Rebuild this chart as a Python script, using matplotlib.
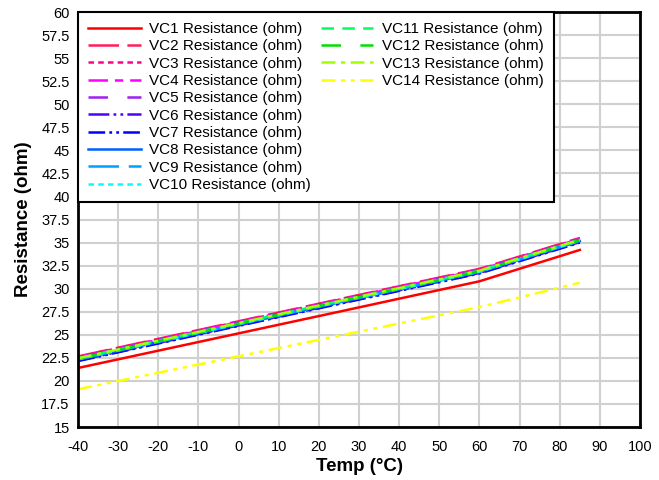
import matplotlib
matplotlib.use("Agg")
import matplotlib.pyplot as plt
from matplotlib.lines import Line2D

plt.rcParams["font.family"] = ["Liberation Sans", "DejaVu Sans"]
plt.rcParams["lines.scale_dashes"] = False
plt.rcParams["axes.unicode_minus"] = False

temps = [-40, 25, 60, 85]

series = {
    "VC1 Resistance (ohm)": [21.4, 27.5, 30.8, 34.2],
    "VC2 Resistance (ohm)": [22.65, 28.85, 32.15, 35.5],
    "VC3 Resistance (ohm)": [22.6, 28.8, 32.1, 35.45],
    "VC4 Resistance (ohm)": [22.55, 28.75, 32.05, 35.4],
    "VC5 Resistance (ohm)": [22.5, 28.7, 32.0, 35.35],
    "VC6 Resistance (ohm)": [22.2, 28.4, 31.7, 35.05],
    "VC7 Resistance (ohm)": [22.15, 28.35, 31.65, 35.0],
    "VC8 Resistance (ohm)": [22.3, 28.5, 31.8, 35.15],
    "VC9 Resistance (ohm)": [22.35, 28.55, 31.85, 35.2],
    "VC10 Resistance (ohm)": [22.35, 28.55, 31.85, 35.2],
    "VC11 Resistance (ohm)": [22.45, 28.65, 31.95, 35.3],
    "VC12 Resistance (ohm)": [22.4, 28.6, 31.9, 35.25],
    "VC13 Resistance (ohm)": [22.45, 28.65, 31.95, 35.3],
    "VC14 Resistance (ohm)": [19.1, 24.9, 28.0, 30.65],
}

colors = ["#FF0000", "#FF1E5A", "#FF0090", "#FF00FF", "#A020F0", "#5000FF", "#0000FF",
          "#0060FF", "#00A0FF", "#00FFFF", "#00FF60", "#00E000", "#A0FF00", "#FFFF00"]

styles = [
    "-",
    (0, (22, 6)),
    (0, (4, 3)),
    (0, (14, 5, 6, 5)),
    (0, (14, 14)),
    (0, (15, 3, 2, 3, 2, 3)),
    (0, (12, 3, 2, 3, 2, 3)),
    "-",
    (0, (22, 7)),
    (0, (4, 3)),
    (0, (9, 6)),
    (0, (14, 14)),
    (0, (10, 4, 3, 4)),
    (0, (10, 4, 3, 4, 3, 4)),
]

fig = plt.figure(figsize=(6.59, 4.8), dpi=100)
ax = fig.add_axes([0.1184, 0.1104, 0.8528, 0.8646])

handles = []
for (name, vals), c, ls in zip(series.items(), colors, styles):
    h, = ax.plot(temps, vals, color=c, linestyle=ls, linewidth=1.8, label=name)
    handles.append(h)

ax.set_xlim(-40, 100)
ax.set_ylim(15, 60)
ax.set_xticks(range(-40, 101, 10))
ax.set_yticks([15 + 2.5 * i for i in range(19)])
ax.set_yticklabels([f"{15 + 2.5 * i:g}" for i in range(19)])
ax.tick_params(length=0, labelsize=10.5)
ax.tick_params(axis="y", pad=6)
ax.tick_params(axis="x", pad=9)
ax.grid(color="#D0D0D0", linewidth=1.5)
ax.set_axisbelow(True)
for s in ax.spines.values():
    s.set_linewidth(2)
    s.set_color("black")

ax.set_xlabel("Temp (°C)", fontsize=13.5, fontweight="bold", labelpad=3)
ax.set_ylabel("Resistance (ohm)", fontsize=13.5, fontweight="bold", labelpad=7)

# 10 entries in the first column, 4 in the second (padded with blanks)
blank = Line2D([], [], linestyle="none")
leg_handles = handles[:10] + handles[10:] + [blank] * 6
leg_labels = [h.get_label() for h in handles] + [""] * 6
leg = ax.legend(leg_handles, leg_labels, loc="upper left", ncol=2, fontsize=11,
                fancybox=False, framealpha=1, edgecolor="black", borderaxespad=0,
                handlelength=3.45, handletextpad=0.55, columnspacing=0.65,
                labelspacing=0.22, borderpad=0.65)
leg.get_frame().set_linewidth(1.5)

plt.savefig("out.png", dpi=100)
